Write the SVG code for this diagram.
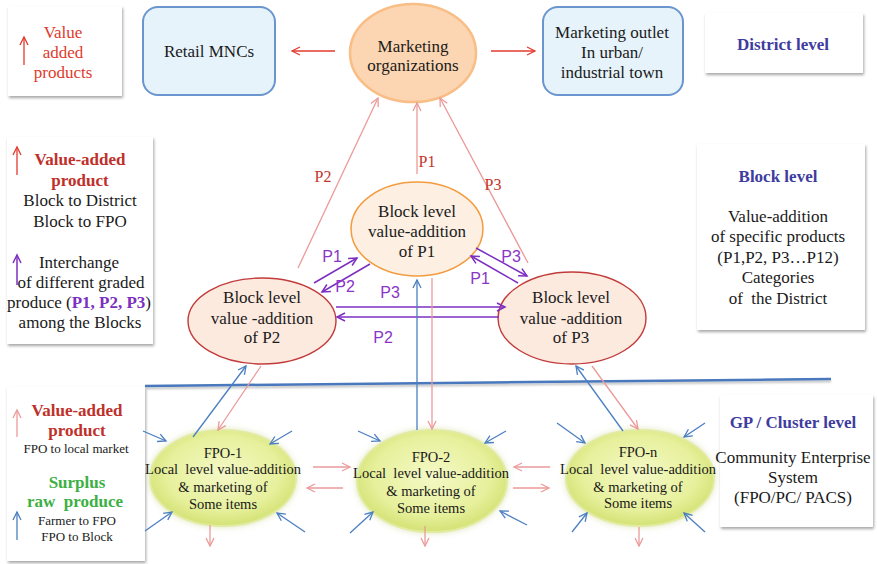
<svg xmlns="http://www.w3.org/2000/svg" width="877" height="564" viewBox="0 0 877 564">
<defs>
<style>
.t{font-family:"Liberation Serif","Times New Roman",serif;font-size:17px;fill:#1a1a1a;text-anchor:middle}
.b{font-weight:bold}
.red{fill:#e03a2e}
.dred{fill:#c0302a}
.blu{fill:#3e3c9e}
.grn{fill:#3cb043}
.pur{fill:#7b2fc0}
.sm{font-size:13px}
.fpo{font-size:14.5px}
.pl{font-size:16px;fill:#c4332b}
.ps{font-family:"Liberation Sans",Arial,sans-serif;font-size:16px;fill:#8a35c8;text-anchor:middle}
.box{fill:#ffffff;filter:url(#sh)}
.rbox{fill:#e6f3fb;stroke:#6a95cf;stroke-width:2}
.blk{fill:#fdeadf;stroke:#c23b3b;stroke-width:1.4}
.fpoe{fill:url(#fg);stroke:#e3eba0;stroke-width:2;filter:url(#glow)}
.cr{stroke:#e23a2e;stroke-width:1.3;fill:none;marker-end:url(#mR)}
.cp{stroke:#eb9a9a;stroke-width:1.3;fill:none;marker-end:url(#mP)}
.cb{stroke:#4b7fc2;stroke-width:1.3;fill:none;marker-end:url(#mB)}
.cv{stroke:#7d2fc0;stroke-width:1.5;fill:none;marker-end:url(#mV)}
.hl{stroke:#4a78bd;stroke-width:2.5;fill:none;filter:url(#lsh)}
</style>
<filter id="sh" x="-10%" y="-10%" width="125%" height="125%">
<feDropShadow dx="1" dy="2" stdDeviation="1.6" flood-color="#000" flood-opacity="0.35"/>
</filter>
<filter id="lsh" x="-5%" y="-200%" width="110%" height="500%">
<feDropShadow dx="0" dy="2" stdDeviation="1" flood-color="#000" flood-opacity="0.25"/>
</filter>
<filter id="glow" x="-20%" y="-20%" width="140%" height="140%">
<feDropShadow dx="0" dy="0" stdDeviation="3" flood-color="#c9d48a" flood-opacity="0.6"/>
</filter>
<radialGradient id="fg" cx="50%" cy="45%" r="55%">
<stop offset="0" stop-color="#f4f9c6"/>
<stop offset="0.7" stop-color="#e7f09c"/>
<stop offset="1" stop-color="#d3e274"/>
</radialGradient>
<marker id="mR" markerUnits="userSpaceOnUse" markerWidth="12" markerHeight="12" refX="9" refY="5" orient="auto"><path d="M1,1 L9,5 L1,9" fill="none" stroke="#e23a2e" stroke-width="1.3"/></marker>
<marker id="mP" markerUnits="userSpaceOnUse" markerWidth="12" markerHeight="12" refX="9" refY="5" orient="auto"><path d="M1,1 L9,5 L1,9" fill="none" stroke="#eb9a9a" stroke-width="1.3"/></marker>
<marker id="mB" markerUnits="userSpaceOnUse" markerWidth="12" markerHeight="12" refX="9" refY="5" orient="auto"><path d="M1,1 L9,5 L1,9" fill="none" stroke="#4b7fc2" stroke-width="1.3"/></marker>
<marker id="mV" markerUnits="userSpaceOnUse" markerWidth="12" markerHeight="12" refX="9" refY="5" orient="auto"><path d="M1,1 L9,5 L1,9" fill="none" stroke="#7d2fc0" stroke-width="1.5"/></marker>
</defs>
<rect width="877" height="564" fill="#ffffff"/>

<!-- level lines -->
<g id="level-lines">
<line class="hl" x1="143" y1="116" x2="832" y2="116"/>
<line class="hl" x1="145" y1="386" x2="831" y2="379"/>
</g>

<!-- legend boxes -->
<g id="legend-district">
<rect class="box" x="8" y="6" width="114" height="90"/>
<text class="t red" x="63" y="38">Value</text>
<text class="t red" x="63" y="58">added</text>
<text class="t red" x="63" y="78">products</text>
</g>
<g id="legend-block">
<rect class="box" x="7" y="137" width="146" height="207"/>
<text class="t b dred" x="80" y="165">Value-added</text>
<text class="t b dred" x="80" y="186">product</text>
<text class="t" x="80" y="206">Block to District</text>
<text class="t" x="80" y="227">Block to FPO</text>
<text class="t" x="79" y="268">Interchange</text>
<text class="t" x="81" y="288">of different graded</text>
<text class="t" x="79" y="308">produce (<tspan class="b pur">P1, P2, P3</tspan>)</text>
<text class="t" x="80" y="328">among the Blocks</text>
</g>
<g id="legend-gp">
<rect class="box" x="7" y="387" width="138" height="174"/>
<text class="t b dred" x="77" y="416">Value-added</text>
<text class="t b dred" x="77" y="436">product</text>
<text class="t sm" x="76" y="453">FPO to local market</text>
<text class="t b grn" x="77" y="488">Surplus</text>
<text class="t b grn" x="75" y="507" xml:space="preserve">raw  produce</text>
<text class="t sm" x="77" y="525">Farmer to FPO</text>
<text class="t sm" x="77" y="541">FPO to Block</text>
</g>
<g id="district-level">
<rect class="box" x="705" y="13" width="158" height="60"/>
<text class="t b blu" x="783" y="50">District level</text>
</g>
<g id="block-level">
<rect class="box" x="697" y="144" width="168" height="186"/>
<text class="t b blu" x="778" y="182">Block level</text>
<text class="t" x="778" y="222">Value-addition</text>
<text class="t" x="778" y="242">of specific products</text>
<text class="t" x="778" y="263">(P1,P2, P3…P12)</text>
<text class="t" x="778" y="283">Categories</text>
<text class="t" x="778" y="304" xml:space="preserve">of  the District</text>
</g>
<g id="gp-level">
<rect class="box" x="720" y="395" width="153" height="132"/>
<text class="t b blu" x="793" y="428">GP / Cluster level</text>
<text class="t" x="793" y="463">Community Enterprise</text>
<text class="t" x="793" y="483">System</text>
<text class="t" x="793" y="503">(FPO/PC/ PACS)</text>
</g>

<!-- district nodes -->
<g id="retail-mncs">
<rect class="rbox" x="143" y="7" width="132" height="88" rx="15"/>
<text class="t" x="209" y="57">Retail MNCs</text>
</g>
<g id="marketing-organizations">
<ellipse cx="413" cy="53" rx="63" ry="49" fill="#fcd6b2" stroke="#f9bd86" stroke-width="2.5"/>
<text class="t" x="413" y="52">Marketing</text>
<text class="t" x="413" y="71">organizations</text>
</g>
<g id="marketing-outlet">
<rect class="rbox" x="543" y="7" width="140" height="88" rx="15"/>
<text class="t" x="612" y="38">Marketing outlet</text>
<text class="t" x="612" y="58">In urban/</text>
<text class="t" x="612" y="78">industrial town</text>
</g>

<!-- block nodes -->
<g id="block-p1">
<ellipse cx="417" cy="229" rx="66" ry="47" fill="#fdf0e3" stroke="#f39b3e" stroke-width="1.5"/>
<text class="t" x="417" y="217">Block level</text>
<text class="t" x="417" y="237">value-addition</text>
<text class="t" x="417" y="257">of P1</text>
</g>
<g id="block-p2">
<ellipse class="blk" cx="262" cy="321" rx="74" ry="43"/>
<text class="t" x="262" y="303">Block level</text>
<text class="t" x="262" y="324">value -addition</text>
<text class="t" x="262" y="343">of P2</text>
</g>
<g id="block-p3">
<ellipse class="blk" cx="572" cy="318" rx="74" ry="46"/>
<text class="t" x="571" y="303">Block level</text>
<text class="t" x="571" y="324">value -addition</text>
<text class="t" x="571" y="343">of P3</text>
</g>

<!-- FPO nodes -->
<g id="fpo-1">
<ellipse class="fpoe" cx="223" cy="478" rx="73" ry="48"/>
<text class="t fpo" x="223" y="458">FPO-1</text>
<text class="t fpo" x="223" y="474" xml:space="preserve">Local  level value-addition</text>
<text class="t fpo" x="223" y="492">&amp; marketing of</text>
<text class="t fpo" x="223" y="509">Some items</text>
</g>
<g id="fpo-2">
<ellipse class="fpoe" cx="432" cy="481" rx="75" ry="51"/>
<text class="t fpo" x="431" y="462">FPO-2</text>
<text class="t fpo" x="431" y="478" xml:space="preserve">Local  level value-addition</text>
<text class="t fpo" x="431" y="496">&amp; marketing of</text>
<text class="t fpo" x="431" y="513">Some items</text>
</g>
<g id="fpo-n">
<ellipse class="fpoe" cx="640" cy="478" rx="74" ry="48"/>
<text class="t fpo" x="638" y="457">FPO-n</text>
<text class="t fpo" x="638" y="474" xml:space="preserve">Local  level value-addition</text>
<text class="t fpo" x="638" y="492">&amp; marketing of</text>
<text class="t fpo" x="638" y="508">Some items</text>
</g>

<!-- connectors -->
<g id="connectors">
<path class="cr" d="M24,65 L24,37"/>
<path class="cr" d="M17,175 L17,147"/>
<path class="cv" d="M17,285 L17,255"/>
<path class="cp" d="M17,437 L17,410"/>
<path class="cb" d="M17,540 L17,512"/>

<path class="cr" d="M335,51 L292,51"/>
<path class="cr" d="M491,51 L535,51"/>

<path class="cp" d="M298,268 L378,98"/>
<path class="cp" d="M417,174 L417,103"/>
<path class="cp" d="M528,263 L440,98"/>

<path class="cv" d="M314,283 L357,258"/>
<path class="cv" d="M370,264 L322,292"/>
<path class="cv" d="M476,248 L527,276"/>
<path class="cv" d="M518,283 L471,256"/>
<path class="cv" d="M336,307 L505,307"/>
<path class="cv" d="M499,317 L337,317"/>

<path class="cb" d="M193,437 L246,366"/>
<path class="cp" d="M261,366 L218,430"/>
<path class="cb" d="M417,430 L417,280"/>
<path class="cp" d="M432,278 L432,429"/>
<path class="cb" d="M623,431 L576,366"/>
<path class="cp" d="M592,366 L638,429"/>

<path class="cb" d="M143,431 L166,441"/>
<path class="cb" d="M292,431 L270,444"/>
<path class="cb" d="M145,531 L172,512"/>
<path class="cb" d="M305,532 L277,513"/>
<path class="cp" d="M210,525 L210,546"/>
<path class="cp" d="M313,467 L350,467"/>
<path class="cp" d="M343,488 L307,488"/>

<path class="cb" d="M358,431 L380,441"/>
<path class="cb" d="M506,431 L485,443"/>
<path class="cb" d="M350,533 L373,512"/>
<path class="cb" d="M527,525 L500,511"/>
<path class="cp" d="M425,526 L425,546"/>
<path class="cp" d="M550,467 L514,467"/>
<path class="cp" d="M513,488 L549,488"/>

<path class="cb" d="M557,423 L585,443"/>
<path class="cb" d="M705,423 L684,437"/>
<path class="cb" d="M572,532 L587,513"/>
<path class="cb" d="M705,532 L684,513"/>
<path class="cp" d="M639,527 L639,546"/>
</g>

<g id="connector-labels">
<text class="t pl" x="323" y="182">P2</text>
<text class="t pl" x="427" y="167">P1</text>
<text class="t pl" x="493" y="190">P3</text>
<text class="ps" x="332" y="262">P1</text>
<text class="ps" x="345" y="292">P2</text>
<text class="ps" x="511" y="262">P3</text>
<text class="ps" x="480" y="284">P1</text>
<text class="ps" x="390" y="298">P3</text>
<text class="ps" x="383" y="343">P2</text>
</g>
</svg>
